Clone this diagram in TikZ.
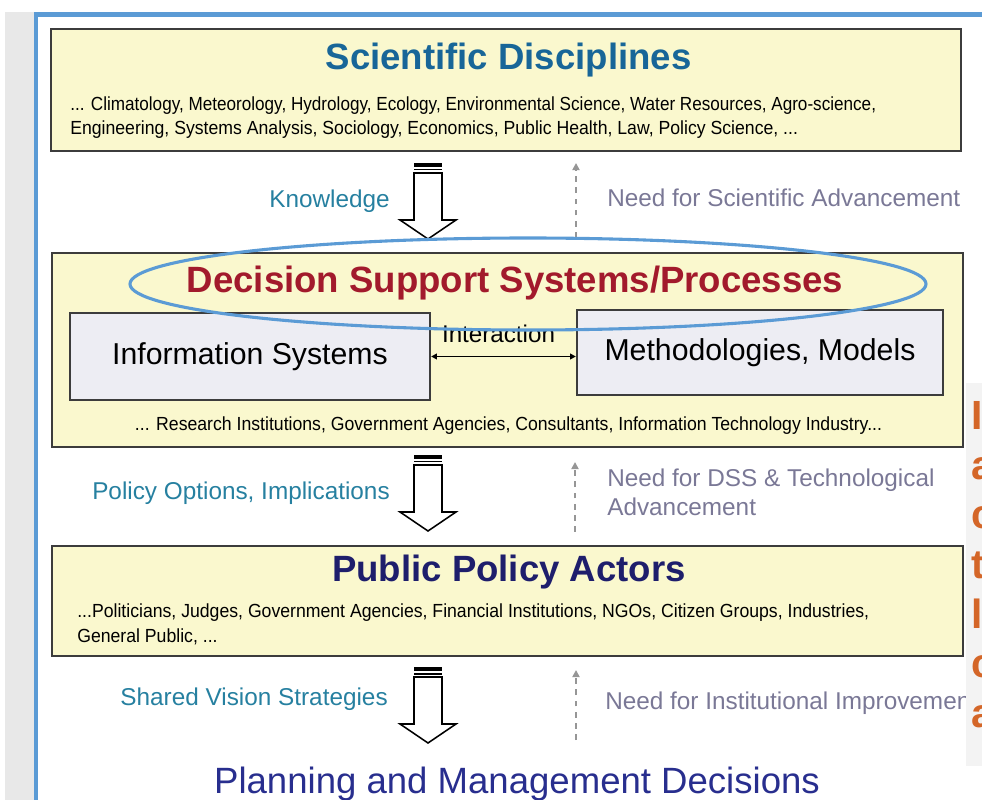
\documentclass[tikz,border=0pt]{standalone}
\usepackage{fontspec}
\setmainfont{Liberation Sans}
\newfontfamily\narrowfont{Liberation Sans}[FakeStretch=0.93]
\usetikzlibrary{arrows.meta, calc, positioning}

\definecolor{frameblue}{RGB}{91,155,213}
\definecolor{boxfill}{RGB}{250,248,206}
\definecolor{boxline}{RGB}{60,60,60}
\definecolor{subfill}{RGB}{237,237,243}
\definecolor{scititle}{RGB}{24,102,152}
\definecolor{dsstitle}{RGB}{162,26,44}
\definecolor{ppatitle}{RGB}{30,30,108}
\definecolor{plantitle}{RGB}{40,46,142}
\definecolor{flowteal}{RGB}{38,128,160}
\definecolor{needgray}{RGB}{122,120,150}
\definecolor{dashgray}{RGB}{150,150,150}
\definecolor{stripgray}{RGB}{232,232,232}
\definecolor{panelgray}{RGB}{243,243,243}
\definecolor{slideorange}{RGB}{212,102,40}

% hollow block arrow with two stripes at its tail, top at #1
\newcommand{\stripedarrow}[1]{%
  \fill ($(#1)+(-14,0)$) rectangle ($(#1)+(14,4)$);
  \fill ($(#1)+(-14,6)$) rectangle ($(#1)+(14,7.5)$);
  \draw[line width=1.1pt, fill=white, line join=miter]
    ($(#1)+(-14,10)$) -- ($(#1)+(-14,57)$) -- ($(#1)+(-28,57)$) -- ($(#1)+(0,76)$)
    -- ($(#1)+(28,57)$) -- ($(#1)+(14,57)$) -- ($(#1)+(14,10)$) -- cycle;
}

\begin{document}
\begin{tikzpicture}[x=0.025cm, y=-0.025cm,
    layerbox/.style={draw=boxline, fill=boxfill, line width=1.8pt, inner sep=0pt},
    subbox/.style={draw=boxline, fill=subfill, line width=1.6pt, font=\fontsize{21.5}{24}\selectfont},
    headtext/.style={font=\fontsize{26}{30}\selectfont\bfseries, inner sep=0pt, anchor=base},
    smalltext/.style={font=\narrowfont\fontsize{13.5}{16}\selectfont, inner sep=0pt, anchor=base west},
    flowlabel/.style={font=\fontsize{17.3}{20}\selectfont, text=flowteal, inner sep=0pt, anchor=base east},
    needlabel/.style={font=\fontsize{17.3}{20}\selectfont, text=needgray, inner sep=0pt, anchor=base west},
    feedback/.style={draw=dashgray, line width=1.2pt, dash pattern=on 4pt off 4pt, -{Triangle[length=5pt,width=5pt]}},
    ]
  \clip (0,0) rectangle (982,800);

  % slide edge and frame
  \fill[stripgray] (5,12) rectangle (34,800);
  \draw[frameblue, line width=3.2pt] (36,800) -- (36,14.3) -- (982,14.3);

  % Scientific Disciplines
  \node[layerbox, minimum width=22.75cm, minimum height=3.05cm] (sci) at (506,90) {};
  \node[headtext, text=scititle] (scihead) at (508.5,70) {Scientific Disciplines};
  \node[smalltext, xscale=0.97] (scil1) at (70,111) {... Climatology, Meteorology, Hydrology, Ecology, Environmental Science, Water Resources, Agro-science,};
  \node[smalltext] (scil2) at (70,135) {Engineering, Systems Analysis, Sociology, Economics, Public Health, Law, Policy Science, ...};

  % Decision Support Systems
  \node[layerbox, minimum width=22.775cm, minimum height=4.85cm] (dss) at (507.5,350) {};
  \node[headtext, text=dsstitle] (dsshead) at (515,293) {Decision Support Systems/Processes};
  \node[subbox, minimum width=9cm, minimum height=2.175cm] (infosys) at (250,356.5) {Information Systems};
  \node[subbox, minimum width=9.15cm, minimum height=2.125cm] (methods) at (760,352.5) {Methodologies, Models};
  \node[font=\fontsize{17.2}{20}\selectfont, inner sep=0pt, anchor=base] (inter) at (498.5,343) {Interaction};
  \draw[{Triangle[length=4pt,width=4pt]}-{Triangle[length=4pt,width=4pt]}, line width=1pt]
    (infosys.east) -- (infosys.east -| methods.west);
  \node[smalltext, anchor=base] (dssl1) at (508.5,431) {... Research Institutions, Government Agencies, Consultants, Information Technology Industry...};

  % Public Policy Actors
  \node[layerbox, minimum width=22.775cm, minimum height=2.75cm] (ppa) at (507.5,601) {};
  \node[headtext, text=ppatitle] (ppahead) at (509,581) {Public Policy Actors};
  \node[smalltext] (ppal1) at (77,617) {...Politicians, Judges, Government Agencies, Financial Institutions, NGOs, Citizen Groups, Industries,};
  \node[smalltext] (ppal2) at (77,642) {General Public, ...};

  % flows down
  \coordinate (knowtop) at (428,163);
  \coordinate (policytop) at (428,455);
  \coordinate (sharedtop) at (428,667);
  \stripedarrow{knowtop}
  \stripedarrow{policytop}
  \stripedarrow{sharedtop}
  \node[flowlabel] (know) at (390,208) {Knowledge};
  \node[flowlabel] (policy) at (390,500) {Policy Options, Implications};
  \node[flowlabel] (shared) at (388,705) {Shared Vision Strategies};

  % needs up
  \coordinate (need1a) at (576,238);
  \coordinate (need1b) at (576,163);
  \coordinate (need2a) at (575,532);
  \coordinate (need2b) at (575,462);
  \coordinate (need3a) at (576,740);
  \coordinate (need3b) at (576,670);
  \draw[feedback] (need1a) -- (need1b);
  \draw[feedback] (need2a) -- (need2b);
  \draw[feedback] (need3a) -- (need3b);
  \node[needlabel] (needsci) at (607,207) {Need for Scientific Advancement};
  \node[needlabel] (needdss) at (607,487) {Need for DSS \& Technological};
  \node[needlabel] (needdss2) at (607,516) {Advancement};
  \node[needlabel] (needinst) at (605,709) {Need for Institutional Improvement};

  \node[font=\fontsize{26}{30}\selectfont, text=plantitle, inner sep=0pt, anchor=base] (plan) at (517,793) {Planning and Management Decisions};

  % highlight
  \draw[frameblue, line width=2.2pt] (528,284) ellipse [x radius=398, y radius=46];

  % cut-off side panel
  \fill[panelgray] (966,383) rectangle (982,766);
  \begin{scope}
    \clip (966,383) rectangle (982,766);
    \foreach \ch [count=\i from 0] in {I,a,c,t,l,c,a}
      \node[font=\fontsize{29}{32}\selectfont\bfseries, text=slideorange, inner sep=0pt, anchor=base west] (side\i) at (971,{430+49.5*\i}) {\ch};
  \end{scope}
\end{tikzpicture}
\end{document}
